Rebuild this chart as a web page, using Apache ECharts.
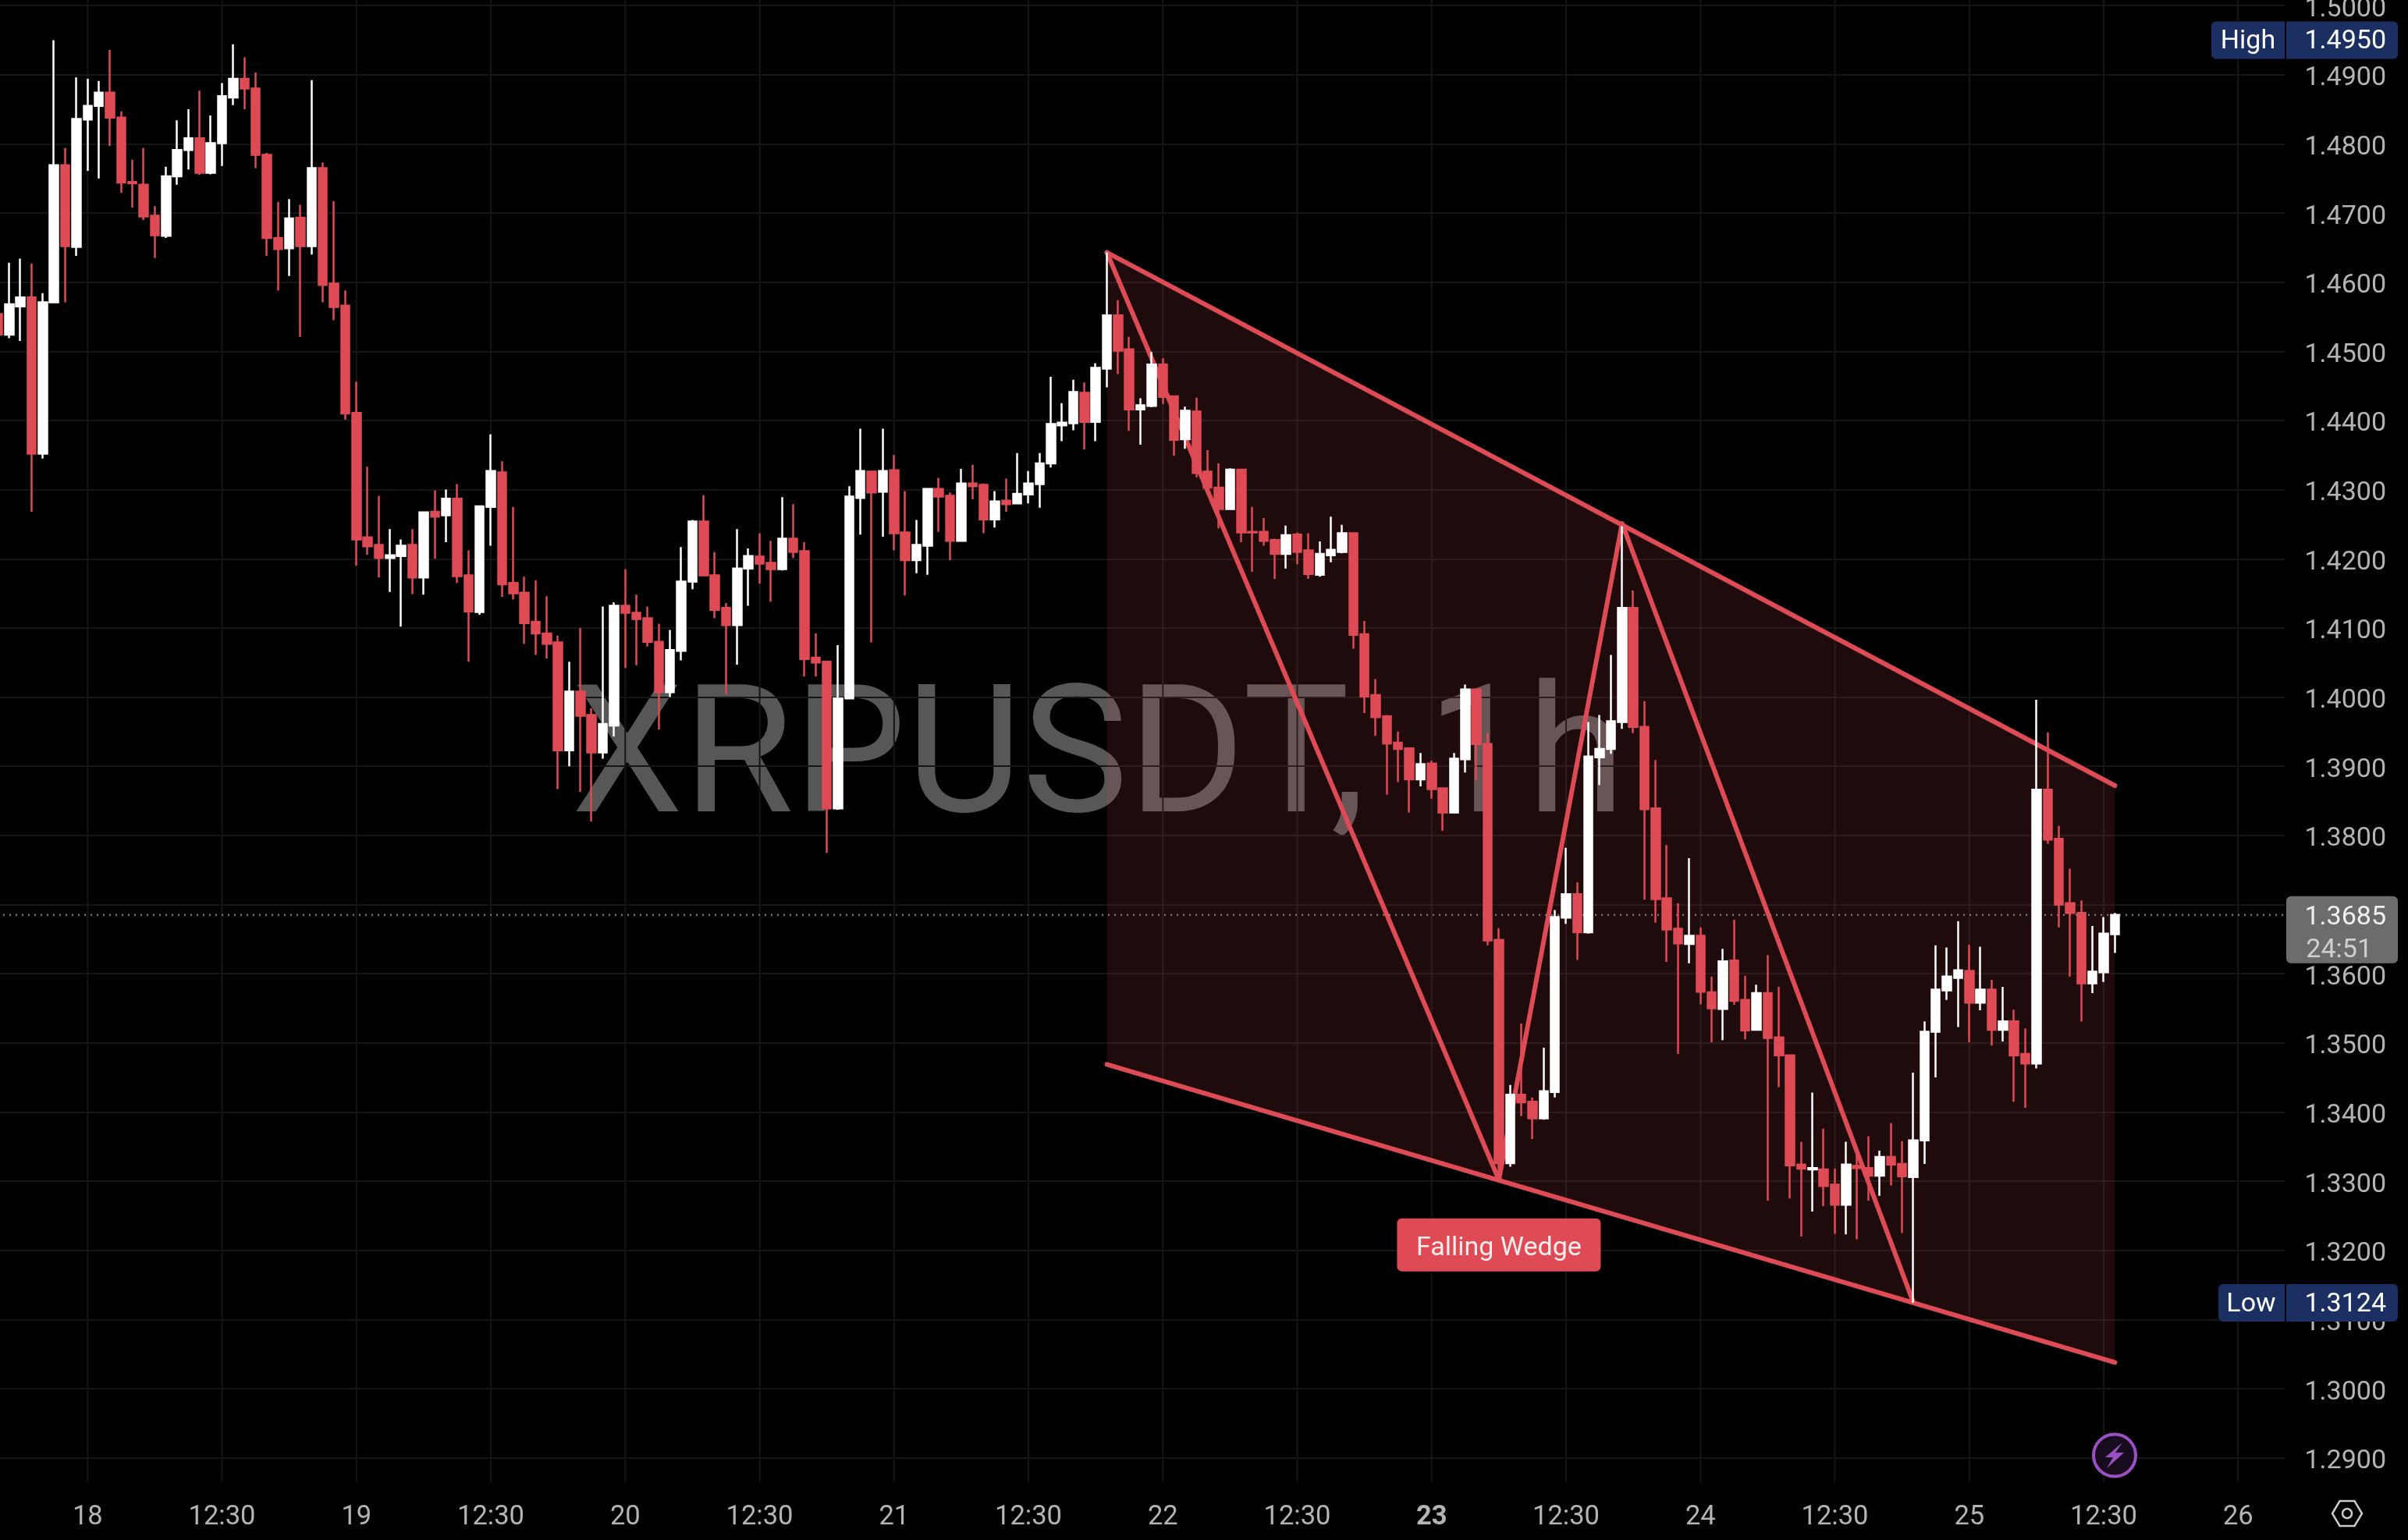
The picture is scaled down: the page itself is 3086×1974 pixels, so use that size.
<!DOCTYPE html>
<html><head><meta charset="utf-8">
<style>html,body{margin:0;padding:0;background:#000}#c{width:3086px;height:1974px}</style>
<script src="https://cdn.jsdelivr.net/npm/echarts@6/dist/echarts.min.js"></script>
</head><body><div id="c"></div>
<script>
const FIRST_HOUR = -8; // first candle, in hours from the "18" tick
const opens = [
1.4554,1.4524,1.4565,1.4578,1.4352,1.4571,1.4769,1.4651,1.4835,1.4855,
1.4874,1.4838,1.4745,1.4741,1.4696,1.4667,1.4753,1.4791,1.4808,1.4758,
1.4801,1.4867,1.4894,1.4880,1.4784,1.4664,1.4649,1.4693,1.4652,1.4765,
1.4598,1.4566,1.4411,1.4231,1.4220,1.4201,1.4204,1.4220,1.4173,1.4268,
1.4263,1.4287,1.4176,1.4123,1.4275,1.4325,1.4165,1.4151,1.4109,1.4092,
1.4079,1.3923,1.4008,1.3974,1.3920,1.3959,1.4132,1.4122,1.4114,1.4080,
1.4007,1.4067,1.4167,1.4254,1.4176,1.4129,1.4104,1.4186,1.4203,1.4194,
1.4185,1.4229,1.4211,1.4057,1.4051,1.3839,1.3998,1.4288,1.4326,1.4297,
1.4328,1.4238,1.4198,1.4219,1.4301,1.4291,1.4226,1.4309,1.4307,1.4257,
1.4284,1.4280,1.4293,1.4308,1.4338,1.4393,1.4396,1.4440,1.4398,1.4475,
1.4552,1.4503,1.4416,1.4421,1.4481,1.4435,1.4373,1.4413,1.4326,1.4303,
1.4272,1.4329,1.4239,1.4239,1.4227,1.4207,1.4235,1.4212,1.4177,1.4205,
1.4210,1.4237,1.4091,1.4003,1.3972,1.3934,1.3926,1.3881,1.3904,1.3868,
1.3833,1.3910,1.4011,1.3932,1.3649,1.3326,1.3425,1.3415,1.3391,1.3429,
1.3681,1.3715,1.3660,1.3913,1.3925,1.3964,1.4129,1.3957,1.3839,1.3709,
1.3665,1.3643,1.3655,1.3573,1.3549,1.3619,1.3562,1.3519,1.3572,1.3508,
1.3482,1.3324,1.3317,1.3317,1.3295,1.3266,1.3322,1.3319,1.3308,1.3335,
1.3325,1.3306,1.3359,1.3516,1.3576,1.3594,1.3604,1.3558,1.3577,1.3519,
1.3531,1.3484,1.3470,1.3866,1.3795,1.3702,1.3688,1.3586,1.3602,1.3657];
const closes = [
1.4524,1.4568,1.4578,1.4352,1.4571,1.4769,1.4652,1.4836,1.4855,1.4874,
1.4838,1.4744,1.4743,1.4695,1.4668,1.4753,1.4791,1.4808,1.4758,1.4801,
1.4869,1.4894,1.4880,1.4784,1.4664,1.4648,1.4692,1.4652,1.4765,1.4596,
1.4564,1.4410,1.4228,1.4218,1.4201,1.4205,1.4219,1.4173,1.4267,1.4261,
1.4287,1.4175,1.4124,1.4276,1.4327,1.4163,1.4150,1.4107,1.4092,1.4077,
1.3923,1.4008,1.3973,1.3920,1.3961,1.4132,1.4122,1.4113,1.4080,1.4007,
1.4068,1.4167,1.4254,1.4176,1.4126,1.4104,1.4186,1.4204,1.4193,1.4185,
1.4229,1.4210,1.4055,1.4050,1.3839,1.3998,1.4290,1.4327,1.4296,1.4327,
1.4237,1.4198,1.4220,1.4301,1.4290,1.4226,1.4309,1.4305,1.4257,1.4283,
1.4279,1.4294,1.4309,1.4338,1.4395,1.4397,1.4441,1.4398,1.4476,1.4552,
1.4501,1.4416,1.4422,1.4481,1.4434,1.4372,1.4414,1.4324,1.4303,1.4272,
1.4329,1.4238,1.4238,1.4226,1.4207,1.4234,1.4210,1.4178,1.4207,1.4213,
1.4237,1.4090,1.4001,1.3971,1.3933,1.3925,1.3881,1.3903,1.3867,1.3833,
1.3911,1.4011,1.3932,1.3648,1.3326,1.3425,1.3414,1.3391,1.3430,1.3682,
1.3715,1.3660,1.3914,1.3925,1.3965,1.4129,1.3957,1.3838,1.3708,1.3664,
1.3644,1.3655,1.3574,1.3550,1.3618,1.3561,1.3518,1.3572,1.3507,1.3482,
1.3323,1.3318,1.3319,1.3293,1.3266,1.3324,1.3319,1.3308,1.3335,1.3324,
1.3307,1.3359,1.3516,1.3577,1.3596,1.3605,1.3558,1.3577,1.3519,1.3531,
1.3482,1.3470,1.3866,1.3794,1.3700,1.3688,1.3586,1.3603,1.3658,1.3685];
const lows = [
1.4515,1.4519,1.4515,1.4268,1.4345,1.4571,1.4571,1.4638,1.4761,1.4750,
1.4797,1.4729,1.4708,1.4690,1.4635,1.4664,1.4741,1.4763,1.4755,1.4756,
1.4768,1.4856,1.4850,1.4765,1.4638,1.4588,1.4609,1.4521,1.4640,1.4571,
1.4545,1.4401,1.4190,1.4206,1.4173,1.4152,1.4102,1.4149,1.4148,1.4200,
1.4224,1.4165,1.4051,1.4119,1.4219,1.4145,1.4141,1.4077,1.4061,1.4056,
1.3867,1.3900,1.3863,1.3820,1.3911,1.3943,1.4042,1.4046,1.4073,1.3953,
1.4000,1.4053,1.4156,1.4176,1.4114,1.4004,1.4047,1.4132,1.4164,1.4138,
1.4183,1.4201,1.4030,1.4030,1.3775,1.3837,1.3998,1.4235,1.4079,1.4232,
1.4212,1.4147,1.4179,1.4177,1.4239,1.4198,1.4226,1.4286,1.4237,1.4245,
1.4268,1.4280,1.4280,1.4274,1.4332,1.4370,1.4386,1.4358,1.4370,1.4448,
1.4467,1.4385,1.4365,1.4419,1.4424,1.4349,1.4359,1.4318,1.4303,1.4244,
1.4272,1.4224,1.4181,1.4219,1.4171,1.4186,1.4192,1.4171,1.4174,1.4195,
1.4208,1.4070,1.3977,1.3944,1.3859,1.3877,1.3833,1.3871,1.3853,1.3807,
1.3833,1.3891,1.3880,1.3641,1.3304,1.3321,1.3394,1.3361,1.3389,1.3421,
1.3672,1.3620,1.3658,1.3873,1.3918,1.3954,1.3948,1.3707,1.3674,1.3617,
1.3484,1.3615,1.3556,1.3501,1.3504,1.3555,1.3505,1.3519,1.3272,1.3436,
1.3275,1.3220,1.3256,1.3264,1.3224,1.3223,1.3216,1.3272,1.3279,1.3294,
1.3225,1.3124,1.3325,1.3450,1.3562,1.3523,1.3501,1.3547,1.3496,1.3502,
1.3415,1.3406,1.3463,1.3788,1.3667,1.3596,1.3531,1.3572,1.3588,1.3630];
const highs = [
1.4560,1.4628,1.4634,1.4627,1.4584,1.4950,1.4794,1.4896,1.4894,1.4891,
1.4936,1.4847,1.4777,1.4794,1.4710,1.4767,1.4834,1.4850,1.4877,1.4841,
1.4888,1.4944,1.4925,1.4903,1.4787,1.4716,1.4720,1.4712,1.4892,1.4773,
1.4717,1.4588,1.4456,1.4333,1.4291,1.4243,1.4228,1.4243,1.4268,1.4299,
1.4300,1.4308,1.4212,1.4277,1.4380,1.4341,1.4275,1.4174,1.4169,1.4146,
1.4089,1.4051,1.4100,1.3984,1.4131,1.4137,1.4185,1.4148,1.4131,1.4106,
1.4097,1.4217,1.4256,1.4292,1.4210,1.4136,1.4243,1.4215,1.4237,1.4226,
1.4289,1.4279,1.4224,1.4092,1.4052,1.4075,1.4305,1.4388,1.4326,1.4388,
1.4350,1.4298,1.4256,1.4302,1.4317,1.4296,1.4330,1.4336,1.4309,1.4298,
1.4316,1.4353,1.4327,1.4353,1.4463,1.4425,1.4459,1.4455,1.4483,1.4643,
1.4574,1.4521,1.4432,1.4499,1.4490,1.4435,1.4420,1.4433,1.4357,1.4338,
1.4331,1.4329,1.4275,1.4259,1.4229,1.4248,1.4238,1.4237,1.4225,1.4261,
1.4249,1.4238,1.4110,1.4026,1.3974,1.3950,1.3927,1.3919,1.3908,1.3868,
1.3919,1.4018,1.4011,1.3948,1.3666,1.3439,1.3528,1.3421,1.3493,1.3692,
1.3782,1.3732,1.3964,1.3974,1.4061,1.4247,1.4154,1.3994,1.3909,1.3786,
1.3702,1.3767,1.3667,1.3596,1.3636,1.3678,1.3597,1.3584,1.3627,1.3581,
1.3482,1.3357,1.3428,1.3376,1.3318,1.3357,1.3338,1.3365,1.3344,1.3384,
1.3358,1.3457,1.3531,1.3641,1.3638,1.3676,1.3642,1.3639,1.3591,1.3581,
1.3548,1.3521,1.3996,1.3949,1.3814,1.3752,1.3706,1.3669,1.3682,1.3688];
const upperLine = [[91,1.4643],[181,1.3872]];
const lowerLine = [[91,1.3469],[181,1.3038]];
const zigzag = [[91,1.4643],[126,1.3302],[137,1.4251],[163,1.3125]];
const wedgeArea = [[91,1.4643],[181,1.3872],[181,1.3038],[91,1.3469]];
const labelAnchor = [126,1.3208];
const highPrice = 1.4950, lowPrice = 1.3124, lastPrice = 1.3685;
const lastCountdown = '24:51';
const dayLabels = ['18','19','20','21','22','23','24','25','26'];
const gridHours = [0,12,24,36,48,60,72,84,96,108,120,132,144,156,168,180,192];
const plotBottomPrice = 1.2865;
const watermark = 'XRPUSDT,\u20041h';
const patternName = 'Falling Wedge';

const RED='#df4b55', WHITE='#ffffff', GRIDC='#151515', LABEL='#b4b4b4', NAVY='#1c2f63', FONT='Roboto, sans-serif';
const candleData = opens.map((o,i)=>[i+FIRST_HOUR,o,closes[i],lows[i],highs[i]]);
const lineSeries=(name,data)=>({name,type:'line',data,symbol:'none',z:2,silent:true,animation:false,
  lineStyle:{color:RED,width:6,cap:'round',join:'round'}});
function pill(name,price,parts){
  return {type:'custom',name,coordinateSystem:'cartesian2d',z:10,silent:true,clip:false,data:[[0,price]],
    renderItem:(p,api)=>{const y=api.coord([0,price])[1];return {type:'group',children:parts(y)};}};
}
const rr=(x,y,w,h,fill,r)=>({type:'rect',shape:{x,y,width:w,height:h,r},style:{fill}});
const tx=(text,x,y,fill,size,align)=>({type:'text',style:{text,x,y,fill,fontSize:size,fontFamily:FONT,align:align||'right',verticalAlign:'middle'}});

const chart=echarts.init(document.getElementById('c'),null,{renderer:'canvas'});
chart.setOption({
  animation:false,backgroundColor:'#000',
  grid:{left:-59.95,top:0,width:2987.95,height:1957.3,containLabel:false,outerBoundsMode:'none'},
  xAxis:{type:'value',min:-12,max:196.16,interval:12,
    axisLine:{show:false},axisTick:{show:false},splitLine:{show:false},
    axisLabel:{show:true,margin:-29,color:LABEL,fontFamily:FONT,fontSize:34.5,showMinLabel:false,showMaxLabel:false,
      formatter:v=>{ if(v%24===0){const d=dayLabels[v/24]; return d==='23'?'{b|'+d+'}':d;} return '12:30'; },
      rich:{b:{fontWeight:'bold',color:LABEL,fontFamily:FONT,fontSize:34.5}}}},
  yAxis:{type:'value',position:'right',min:1.28,max:1.5008,interval:0.01,
    axisLine:{show:false},axisTick:{show:false},
    splitLine:{show:true,showMinLine:false,showMaxLine:false,lineStyle:{color:GRIDC,width:2}},
    axisLabel:{show:true,inside:false,margin:130,align:'right',color:LABEL,fontFamily:FONT,fontSize:34,verticalAlign:'top',lineHeight:10,
      showMinLabel:false,showMaxLabel:false,formatter:v=>v.toFixed(4)}},
  graphic:[
    {type:'text',z:-1,silent:true,style:{text:watermark,x:732,y:868,fill:'#575757',fontSize:229,fontFamily:FONT,align:'left',verticalAlign:'top'}},
    {type:'circle',z:20,silent:true,shape:{cx:2710,cy:1865.5,r:27},style:{fill:'#170c1d',stroke:'#9b4fc4',lineWidth:4}},
    {type:'polygon',z:21,silent:true,shape:{points:[[2720,1849],[2698,1868],[2708,1868],[2700,1882],[2722,1862],[2711,1862]]},style:{fill:'#9b4fc4'}},
    {type:'polygon',z:21,silent:true,shape:{points:[[2989,1940],[2998.5,1924],[3017.5,1924],[3027,1940],[3017.5,1956],[2998.5,1956]]},style:{fill:'none',stroke:'#c9c9c9',lineWidth:2.5}},
    {type:'circle',z:21,silent:true,shape:{cx:3008,cy:1940,r:6},style:{fill:'none',stroke:'#c9c9c9',lineWidth:2.5}}
  ],
  series:[
    {type:'custom',name:'time grid',coordinateSystem:'cartesian2d',z:0,silent:true,clip:false,data:gridHours.map(h=>[h]),encode:{x:0},
      renderItem:(p,api)=>{const a=api.coord([api.value(0),1.5008]),b=api.coord([api.value(0),plotBottomPrice]);
        return {type:'line',shape:{x1:a[0],y1:a[1],x2:b[0],y2:b[1]},style:{stroke:GRIDC,lineWidth:2}};}},
    {type:'custom',name:'wedge fill',coordinateSystem:'cartesian2d',z:1,silent:true,data:wedgeArea,
      renderItem:(p,api)=>{ if(p.dataIndex!==0) return null;
        return {type:'polygon',shape:{points:wedgeArea.map(v=>api.coord(v))},style:{fill:'rgba(223,75,85,0.145)'}}; }},
    lineSeries('upper',upperLine),lineSeries('lower',lowerLine),lineSeries('swing',zigzag),
    {name:'last',type:'line',symbol:'none',z:2,silent:true,data:[[-12,lastPrice],[196.16,lastPrice]],
      lineStyle:{color:'#8a8a8a',width:2,type:[2,6]}},
    {name:'XRPUSDT',type:'candlestick',z:3,silent:true,data:candleData,barWidth:11,
      encode:{x:0,y:[1,2,3,4]},
      itemStyle:{color:WHITE,color0:RED,borderColor:WHITE,borderColor0:RED,borderWidth:2.5}},
    {type:'custom',name:'pattern',coordinateSystem:'cartesian2d',z:6,silent:true,clip:false,data:[labelAnchor],
      renderItem:(p,api)=>{const c=api.coord(labelAnchor);return {type:'group',children:[
        rr(c[0]-130.5,c[1]-34,261,68,RED,6),tx(patternName,c[0],c[1]+5,'#fdeced',34,'center')]};}},
    pill('high',highPrice,y=>[rr(2834,y-24,94,48,NAVY,[6,0,0,6]),rr(2930,y-24,143,48,NAVY,[0,6,6,0]),
      tx('High',2881,y+2,'#fff',34,'center'),tx(highPrice.toFixed(4),3058,y+2,'#fff',34)]),
    pill('low',lowPrice,y=>[rr(2843,y-24,85,48,NAVY,[6,0,0,6]),rr(2930,y-24,143,48,NAVY,[0,6,6,0]),
      tx('Low',2885,y+2,'#fff',34,'center'),tx(lowPrice.toFixed(4),3058,y+2,'#fff',34)]),
    pill('last',lastPrice,y=>[rr(2930,y-24,143,86,'#6c6c6c',6),
      tx(lastPrice.toFixed(4),3058,y+4,'#f0f0f0',34),tx(lastCountdown,3040,y+46,'#d0d0d0',34)])
  ]
});
</script></body></html>
